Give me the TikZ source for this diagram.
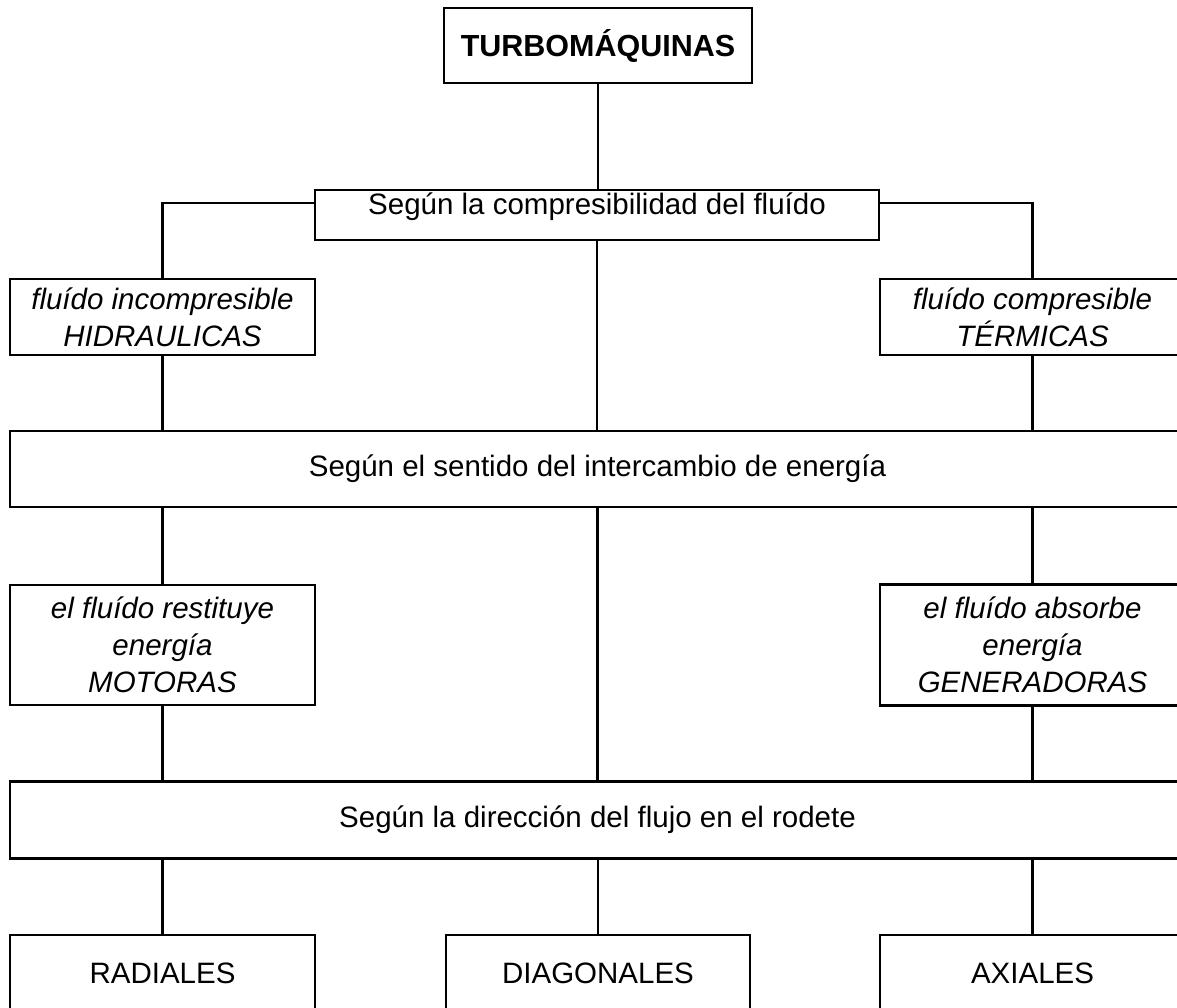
\documentclass[tikz,border=0pt]{standalone}
\usepackage{fontspec}
\setmainfont{Liberation Sans}
\begin{document}
\begin{tikzpicture}[x=1pt,y=-1pt,
  box/.style={draw,line width=2.2pt,rectangle,inner sep=0pt,align=center,
    font=\fontsize{29.5}{37}\selectfont},
  ibox/.style={box,font=\fontsize{29.5}{37}\selectfont\itshape},
  conn/.style={line width=2.2pt}]
\useasboundingbox (0,0) rectangle (1177,1008);
\clip (0,0) rectangle (1177,1008);
\node[box,minimum width=308,minimum height=75,font=\fontsize{30.5}{37}\selectfont\bfseries] (top) at (598,45.5) {TURBOMÁQUINAS};
\node[box,minimum width=564,minimum height=50,text height=20pt,text depth=20pt] (b2) at (597,215) {Según la compresibilidad del fluído};
\node[ibox,minimum width=305,minimum height=76] (hid) at (162.5,317) {fluído incompresible\\HIDRAULICAS};
\node[ibox,minimum width=305,minimum height=76] (ter) at (1032.5,317) {fluído compresible\\TÉRMICAS};
\node[box,minimum width=1175,minimum height=76] (b3) at (597.5,469) {Según el sentido del intercambio de energía};
\node[ibox,minimum width=305,minimum height=120] (mot) at (162.5,645) {el fluído restituye\\energía\\MOTORAS};
\node[ibox,minimum width=305,minimum height=121] (gen) at (1032.5,645) {el fluído absorbe\\energía\\GENERADORAS};
\node[box,minimum width=1175,minimum height=77] (b4) at (597.5,820) {Según la dirección del flujo en el rodete};
\node[box,minimum width=305,minimum height=76] (rad) at (162.5,973) {RADIALES};
\node[box,minimum width=304,minimum height=76] (dia) at (598,973) {DIAGONALES};
\node[box,minimum width=305,minimum height=76] (axi) at (1032.5,973) {AXIALES};

\draw[conn] (top.south) -- (top.south |- b2.north);
\draw[conn] ([yshift=-14pt]b2.north west) -| (hid.north);
\draw[conn] ([yshift=-14pt]b2.north east) -| (ter.north);
\draw[conn] (b2.south) -- (b2.south |- b3.north);
\draw[conn] (hid.south) -- (hid.south |- b3.north);
\draw[conn] (ter.south) -- (ter.south |- b3.north);
\draw[conn] (b3.south -| mot.north) -- (mot.north);
\draw[conn] (b3.south -| gen.north) -- (gen.north);
\draw[conn] (b3.south) -- (b3.south |- b4.north);
\draw[conn] (mot.south) -- (mot.south |- b4.north);
\draw[conn] (gen.south) -- (gen.south |- b4.north);
\draw[conn] (b4.south -| rad.north) -- (rad.north);
\draw[conn] (b4.south -| dia.north) -- (dia.north);
\draw[conn] (b4.south -| axi.north) -- (axi.north);
\end{tikzpicture}
\end{document}
